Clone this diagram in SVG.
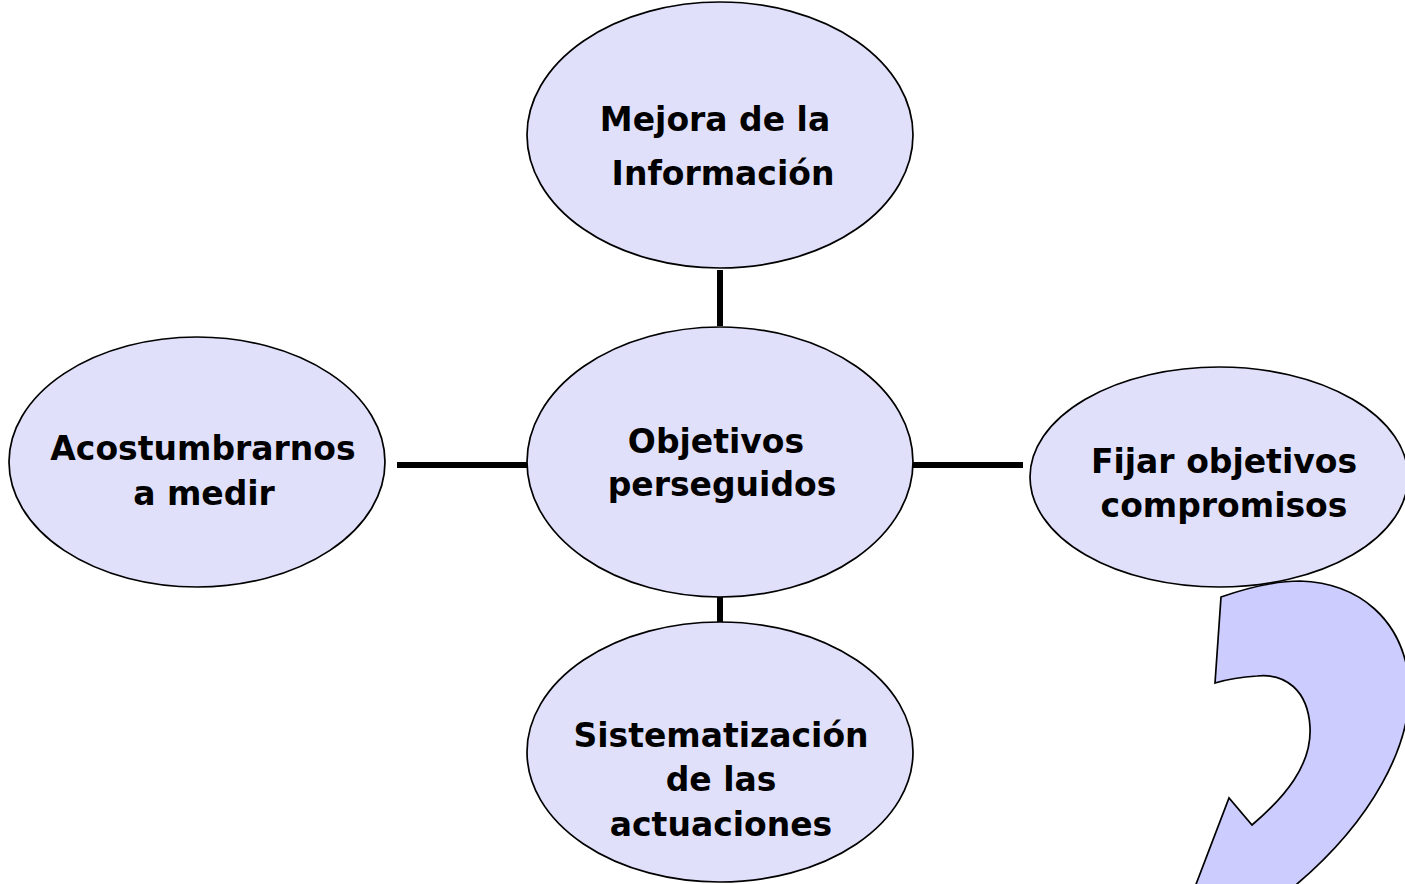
<svg xmlns="http://www.w3.org/2000/svg" width="1405" height="884" viewBox="0 0 1405 884">
<style>
.node{fill:#E0E0FA;stroke:#000;stroke-width:1.7}
.lbl{font-family:"DejaVu Sans",Verdana,sans-serif;font-weight:bold;font-size:33px;fill:#000;text-anchor:middle}
.conn{stroke:#000;stroke-width:6;fill:none}
</style>
<rect width="1405" height="884" fill="#fff"/>
<g id="connectors">
<line class="conn" x1="720" y1="270" x2="720" y2="326"/>
<line class="conn" x1="397" y1="465" x2="529" y2="465"/>
<line class="conn" x1="912" y1="465" x2="1023" y2="465"/>
<line class="conn" x1="720" y1="578" x2="720" y2="628"/>
</g>
<g id="n-top">
<ellipse class="node" cx="720" cy="135" rx="193" ry="133"/>
<text class="lbl" x="715" y="131">Mejora de la</text>
<text class="lbl" x="723" y="185">Información</text>
</g>
<g id="n-center">
<ellipse class="node" cx="720" cy="462" rx="193" ry="135"/>
<text class="lbl" x="716" y="453">Objetivos</text>
<text class="lbl" x="722" y="496">perseguidos</text>
</g>
<g id="n-left">
<ellipse class="node" cx="197" cy="462" rx="188" ry="125"/>
<text class="lbl" x="203" y="460">Acostumbrarnos</text>
<text class="lbl" x="204" y="505">a medir</text>
</g>
<g id="n-right">
<ellipse class="node" cx="1219" cy="477" rx="189" ry="110"/>
<text class="lbl" x="1224" y="473">Fijar objetivos</text>
<text class="lbl" x="1224" y="517">compromisos</text>
</g>
<g id="n-bottom">
<ellipse class="node" cx="720" cy="752" rx="193" ry="130"/>
<text class="lbl" x="721" y="747">Sistematización</text>
<text class="lbl" x="721" y="791">de las</text>
<text class="lbl" x="721" y="836">actuaciones</text>
</g>
<g id="curved-arrow">
<path d="M1221,597 C1250,587 1275,581 1300,581 C1360,583 1402,620 1409,680 C1414,745 1370,822 1297,884 L1296,900 L1190,900 L1229,798 L1252,825 C1285,797 1312,765 1310,727 C1308,690 1285,673 1257,676 C1240,677 1225,680 1215,683 Z" fill="#CCCCFF" stroke="#000" stroke-width="1.7"/>
</g>
</svg>
